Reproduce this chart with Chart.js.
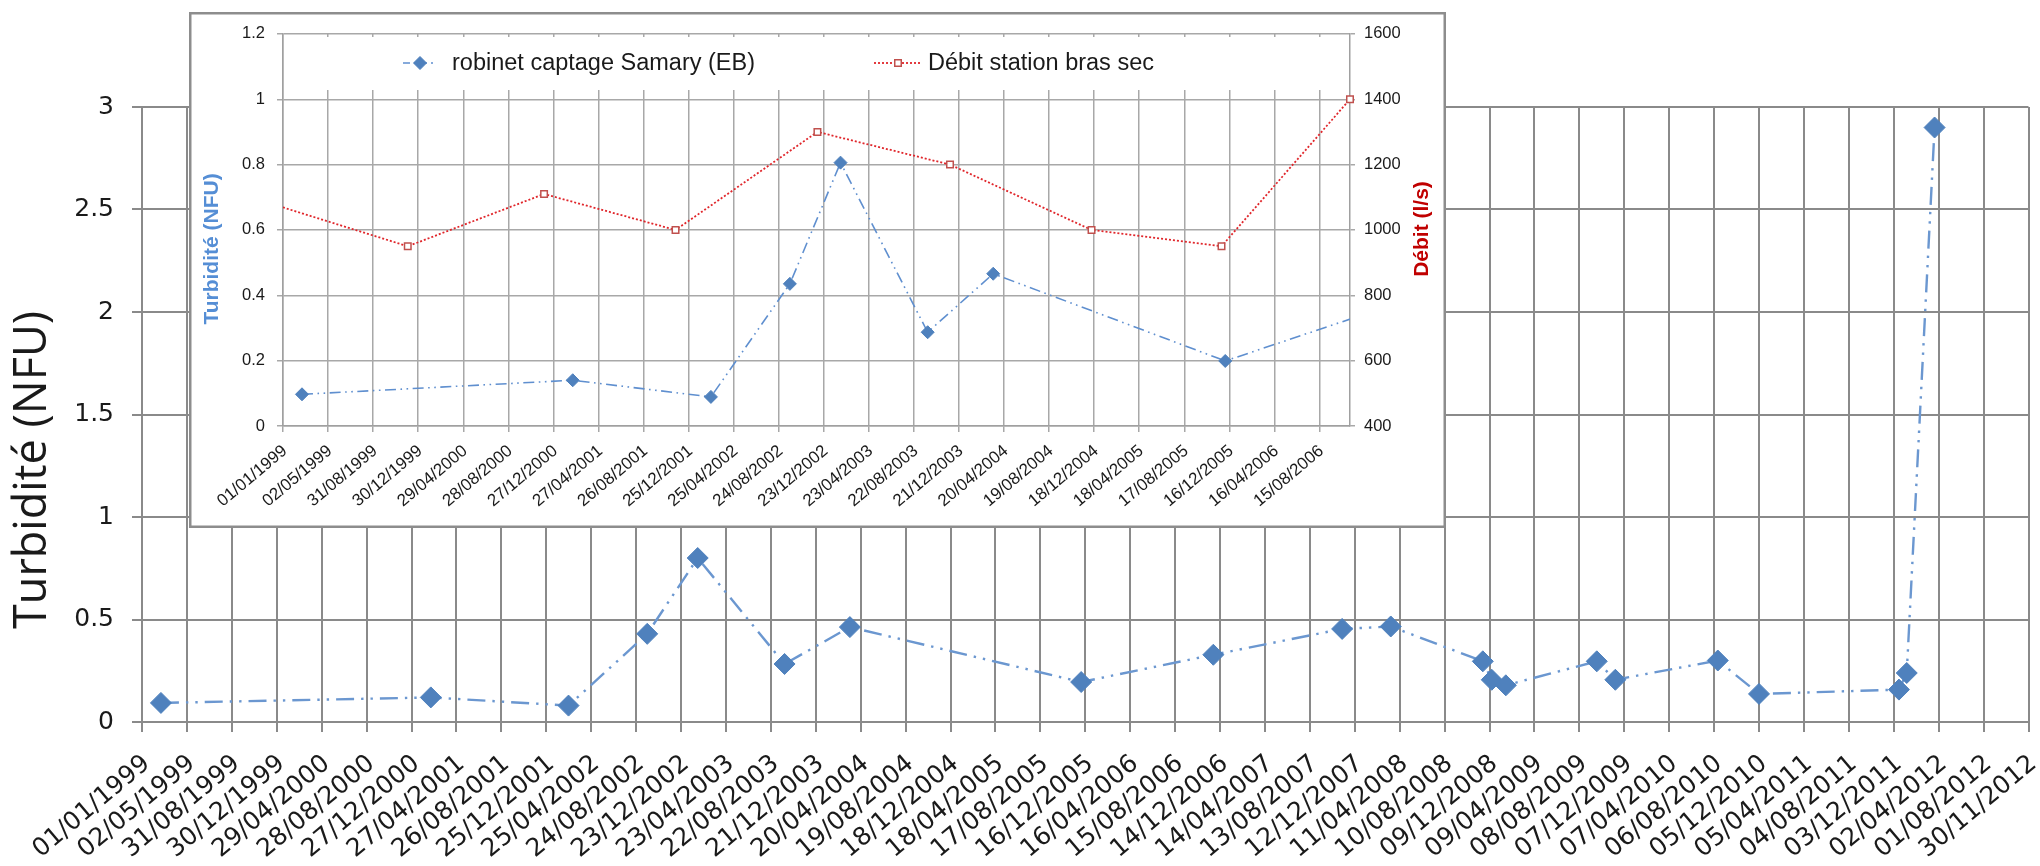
<!DOCTYPE html>
<html lang="fr">
<head>
<meta charset="utf-8">
<title>Turbidité</title>
<script src="https://cdn.jsdelivr.net/npm/chart.js@4.4.1/dist/chart.umd.min.js"></script>
<style>
  html, body { margin:0; padding:0; background:#ffffff; }
  body { width:2040px; height:866px; position:relative; overflow:hidden; }
  canvas { position:absolute; display:block; }
  #mainChart { left:0; top:0; width:2040px; height:866px; }
  #insetChart { left:189px; top:12px; width:1257px; height:516px; }
</style>
</head>
<body>
<canvas id="mainChart" width="2040" height="866"></canvas>
<canvas id="insetChart" width="1257" height="516"></canvas>
<script>
// ---------------- data ----------------
const dateTickLabels = ['01/01/1999','02/05/1999','31/08/1999','30/12/1999','29/04/2000','28/08/2000','27/12/2000',
  '27/04/2001','26/08/2001','25/12/2001','25/04/2002','24/08/2002','23/12/2002','23/04/2003','22/08/2003','21/12/2003',
  '20/04/2004','19/08/2004','18/12/2004','18/04/2005','17/08/2005','16/12/2005','16/04/2006','15/08/2006','14/12/2006',
  '14/04/2007','13/08/2007','12/12/2007','11/04/2008','10/08/2008','09/12/2008','09/04/2009','08/08/2009','07/12/2009',
  '07/04/2010','06/08/2010','05/12/2010','05/04/2011','04/08/2011','03/12/2011','02/04/2012','01/08/2012','30/11/2012'];
const insetDateTickLabels = dateTickLabels.slice(0, 24);   // 01/01/1999 ... 15/08/2006
const mainYTickLabels = ['0','0.5','1','1.5','2','2.5','3'];
const insetYTickLabels = ['0','0.2','0.4','0.6','0.8','1','1.2'];
const debitTickLabels = ['400','600','800','1000','1200','1400','1600'];

const turbidityDates = ['1999-02-21','2001-02-17','2002-02-23','2002-09-23','2003-02-06','2003-09-28','2004-03-22',
  '2005-12-05','2006-11-26','2007-11-08','2008-03-18','2008-11-21','2008-12-15','2009-01-22','2009-09-24',
  '2009-11-13','2010-08-16','2010-12-05','2011-12-17','2012-01-07','2012-03-22'];
const turbidityValues = [0.093,0.12,0.08,0.43,0.80,0.283,0.463,0.195,0.328,0.454,0.466,0.296,0.206,0.179,0.296,
  0.206,0.30,0.137,0.158,0.239,2.90];
// the inset (older chart) shows the first nine measurements
const insetTurbidityDates = turbidityDates.slice(0, 9);
const insetTurbidityValues = [0.097,0.14,0.089,0.435,0.806,0.287,0.466,0.199,0.335];

const debitDates = ['1998-12-01','1999-12-02','2000-12-02','2001-11-20','2002-12-06','2003-11-27','2004-12-11','2005-11-25','2006-11-05'];
const debitValues = [1080,950,1110,1000,1300,1200,1000,950,1400];

const seriesTurbidityName = 'robinet captage Samary (EB)';
const seriesDebitName = 'Débit station bras sec';

// ---------------- helpers ----------------
const ORIGIN = Date.UTC(1999, 0, 1);
const TICK_DAYS = 121;
function dayOf(s) {
  const [y, m, d] = s.split('-').map(Number);
  return Math.round((Date.UTC(y, m - 1, d) - ORIGIN) / 86400000);
}
function toPoints(dates, values) { return dates.map((d, i) => ({ x: dayOf(d), y: values[i] })); }
function dateTicksFrom(labels) { return labels.map((_, i) => ({ value: i * TICK_DAYS })); }

const rotatedTitles = {
  id: 'rotatedTitles',
  afterDraw(chart, args, opts) {
    const ctx = chart.ctx;
    (opts.items || []).forEach(t => {
      ctx.save();
      ctx.translate(t.x, t.y);
      ctx.rotate(-Math.PI / 2);
      ctx.font = t.font;
      ctx.fillStyle = t.color;
      ctx.textAlign = 'center';
      ctx.textBaseline = 'middle';
      ctx.fillText(t.text, 0, 0);
      ctx.restore();
    });
  }
};

const frameBackground = {
  id: 'frameBackground',
  beforeDraw(chart, args, opts) {
    if (!opts.enabled) return;
    const { ctx, width, height } = chart;
    ctx.save();
    ctx.fillStyle = '#ffffff';
    ctx.fillRect(0, 0, width, height);
    ctx.strokeStyle = opts.color;
    ctx.lineWidth = opts.width;
    ctx.strokeRect(opts.width / 2, opts.width / 2, width - opts.width, height - opts.width);
    ctx.restore();
  }
};

function drawMarker(ctx, style, x, y, r, fill, stroke, bw) {
  ctx.beginPath();
  if (style === 'rectRot') {
    ctx.moveTo(x - r, y); ctx.lineTo(x, y - r); ctx.lineTo(x + r, y); ctx.lineTo(x, y + r); ctx.closePath();
  } else {
    const s = r * Math.SQRT1_2;
    ctx.rect(x - s, y - s, 2 * s, 2 * s);
  }
  ctx.fillStyle = fill; ctx.fill();
  if (bw > 0) { ctx.lineWidth = bw; ctx.strokeStyle = stroke; ctx.stroke(); }
}

const insetLegend = {
  id: 'insetLegend',
  beforeDatasetsDraw(chart, args, opts) {
    const { ctx, chartArea: a } = chart;
    ctx.save();
    ctx.fillStyle = '#ffffff';
    ctx.fillRect(a.left + 1, opts.top, a.right - a.left - 2, opts.bottom - opts.top);
    chart.data.datasets.forEach((ds, i) => {
      const it = opts.items[i];
      ctx.strokeStyle = ds.borderColor;
      ctx.lineWidth = ds.borderWidth;
      ctx.setLineDash(it.dash);
      ctx.beginPath(); ctx.moveTo(it.x0, opts.y); ctx.lineTo(it.x1, opts.y); ctx.stroke();
      ctx.setLineDash([]);
      drawMarker(ctx, ds.pointStyle, (it.x0 + it.x1) / 2, opts.y, ds.pointRadius,
        ds.pointBackgroundColor, ds.pointBorderColor, ds.pointBorderWidth);
      ctx.font = opts.font;
      ctx.fillStyle = '#1a1a1a';
      ctx.textAlign = 'left';
      ctx.textBaseline = 'middle';
      ctx.fillText(ds.label, it.tx, opts.y + 1);
    });
    ctx.restore();
  }
};

// ---------------- main chart ----------------
const mainGrid = { color: '#8a8a8a', lineWidth: 2, tickLength: 10 };
const mainBorder = { display: true, color: '#8a8a8a', width: 2 };

new Chart(document.getElementById('mainChart'), {
  type: 'line',
  data: {
    datasets: [{
      label: seriesTurbidityName,
      data: toPoints(turbidityDates, turbidityValues),
      borderColor: '#6b97d0',
      borderWidth: 2.4,
      borderDash: [18, 7, 2.4, 7, 2.4, 7],
      pointStyle: 'rectRot',
      pointRadius: 10.5,
      pointBackgroundColor: '#4f81bd',
      pointBorderColor: '#4f81bd',
      pointBorderWidth: 1,
      tension: 0,
      fill: false
    }]
  },
  options: {
    responsive: false,
    animation: false,
    devicePixelRatio: 1,
    layout: { padding: { top: 107, right: 6, left: 0, bottom: 0 } },
    plugins: {
      legend: { display: false },
      tooltip: { enabled: false },
      rotatedTitles: { items: [
        { text: 'Turbidité (NFU)', x: 33, y: 470, font: '45px "Open Sans"', color: '#1a1a1a' }
      ] }
    },
    scales: {
      x: {
        type: 'linear',
        min: 0,
        max: TICK_DAYS * (dateTickLabels.length - 1),
        afterBuildTicks(s) { s.ticks = dateTicksFrom(dateTickLabels); },
        ticks: {
          autoSkip: false, minRotation: 40, maxRotation: 40,
          padding: 17, labelOffset: 5, color: '#1a1a1a',
          font: { family: 'DejaVu Sans', size: 25 },
          callback: (v, i) => dateTickLabels[i]
        },
        grid: mainGrid,
        border: mainBorder,
        afterFit(s) { s.height = 144; s.paddingLeft = 0; s.paddingRight = 0; }
      },
      y: {
        min: 0, max: 3,
        ticks: {
          stepSize: 0.5, padding: 18, color: '#1a1a1a',
          font: { family: 'DejaVu Sans', size: 25 },
          callback: (v, i) => mainYTickLabels[i]
        },
        grid: mainGrid,
        border: mainBorder,
        afterFit(s) { s.width = 142; }
      }
    }
  },
  plugins: [rotatedTitles]
});

// ---------------- inset chart ----------------
const insetGrid = { color: '#a8a8a8', lineWidth: 1.5, tickLength: 6 };
const insetBorder = { display: true, color: '#a0a0a0', width: 1.5 };
const insetFont = { family: 'Liberation Sans', size: 16.5 };

new Chart(document.getElementById('insetChart'), {
  type: 'line',
  data: {
    datasets: [
      {
        label: seriesTurbidityName,
        yAxisID: 'y',
        data: toPoints(insetTurbidityDates, insetTurbidityValues),
        borderColor: '#5f8fcf',
        borderWidth: 1.6,
        borderDash: [11, 4.5, 1.6, 4.5, 1.6, 4.5],
        pointStyle: 'rectRot',
        pointRadius: 6.5,
        pointBackgroundColor: '#4f81bd',
        pointBorderColor: '#4f81bd',
        pointBorderWidth: 1,
        tension: 0,
        clip: { left: 8, top: 8, right: 0, bottom: 8 }
      },
      {
        label: seriesDebitName,
        yAxisID: 'y1',
        data: toPoints(debitDates, debitValues),
        borderColor: '#e0262b',
        borderWidth: 1.8,
        borderDash: [2, 2],
        pointStyle: 'rect',
        pointRadius: 4.6,
        pointBackgroundColor: '#ffffff',
        pointBorderColor: '#c0504d',
        pointBorderWidth: 1.5,
        tension: 0,
        clip: { left: 0, top: 8, right: 8, bottom: 8 }
      }
    ]
  },
  options: {
    responsive: false,
    animation: false,
    devicePixelRatio: 1,
    layout: { padding: { top: 20, right: 0, left: 0, bottom: 0 } },
    plugins: {
      legend: { display: false },
      tooltip: { enabled: false },
      frameBackground: { enabled: true, color: '#8d8d8d', width: 2.5 },
      insetLegend: {
        top: 25, bottom: 78, y: 51,
        font: '23.5px "Liberation Sans"',
        items: [
          { x0: 214, x1: 248, tx: 263, dash: [7, 4, 2, 4] },
          { x0: 685, x1: 733, tx: 739, dash: [2, 2] }
        ]
      },
      rotatedTitles: { items: [
        { text: 'Turbidité (NFU)', x: 23, y: 237, font: 'bold 21px "Liberation Sans"', color: '#558ed5' },
        { text: 'Débit (l/s)', x: 1233, y: 217, font: 'bold 21px "Liberation Sans"', color: '#c00000' }
      ] }
    },
    scales: {
      x: {
        type: 'linear',
        min: 0,
        max: dayOf(debitDates[debitDates.length - 1]),
        afterBuildTicks(s) { s.ticks = dateTicksFrom(insetDateTickLabels); },
        ticks: {
          autoSkip: false, minRotation: 40, maxRotation: 40,
          padding: 9, labelOffset: 2, color: '#1a1a1a', font: { family: 'Liberation Sans', size: 17 },
          callback: (v, i) => insetDateTickLabels[i]
        },
        grid: insetGrid,
        border: insetBorder,
        afterFit(s) { s.height = 102; s.paddingLeft = 0; s.paddingRight = 0; }
      },
      y: {
        position: 'left',
        min: 0, max: 1.2,
        ticks: { stepSize: 0.2, padding: 12, color: '#1a1a1a', font: insetFont,
          callback: (v, i) => insetYTickLabels[i] },
        grid: insetGrid,
        border: insetBorder,
        afterFit(s) { s.width = 94; }
      },
      y1: {
        position: 'right',
        min: 400, max: 1600,
        ticks: { stepSize: 200, padding: 9, color: '#1a1a1a', font: insetFont,
          callback: (v, i) => debitTickLabels[i] },
        grid: { drawOnChartArea: false, color: '#a8a8a8', lineWidth: 1.5, tickLength: 5 },
        border: insetBorder,
        afterFit(s) { s.width = 96; }
      }
    }
  },
  plugins: [frameBackground, insetLegend, rotatedTitles]
});
</script>
</body>
</html>
